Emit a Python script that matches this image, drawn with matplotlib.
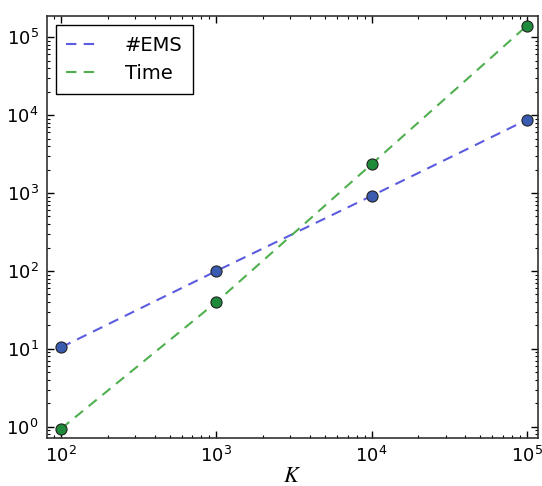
import matplotlib
matplotlib.use('Agg')
import matplotlib.pyplot as plt

K = [1e2, 1e3, 1e4, 1e5]
n_ems = [10.5, 100, 920, 8700]
time_s = [0.95, 40, 2350, 140000]

plt.rcParams['mathtext.fontset'] = 'stix'
plt.rcParams['xtick.direction'] = 'in'
plt.rcParams['ytick.direction'] = 'in'
plt.rcParams['xtick.top'] = True
plt.rcParams['ytick.right'] = True

fig = plt.figure(figsize=(5.42, 4.86), dpi=100)
ax = fig.add_axes([0.0867, 0.0988, 0.906, 0.868])

ax.plot(K, n_ems, '--', color='#5c5ce0', lw=1.5, dashes=(5, 3.5), label='#EMS')
ax.plot(K, time_s, '--', color='#50b050', lw=1.5, dashes=(5, 3.5), label='Time')
ax.plot(K, n_ems, 'o', color='#3a5bb0', mec='#222222', mew=0.8, ms=8)
ax.plot(K, time_s, 'o', color='#1f8a3a', mec='#222222', mew=0.8, ms=8)

ax.set_xscale('log')
ax.set_yscale('log')
ax.set_xlim(81, 1.18e5)
ax.set_ylim(0.72, 1.86e5)

ax.tick_params(which='major', length=5, width=1, labelsize=13, pad=6)
ax.tick_params(which='minor', length=2.5, width=0.8)
for s in ax.spines.values():
    s.set_linewidth(1.2)
    s.set_color('#333333')

ax.set_xlabel('$K$', fontsize=16, labelpad=0)

leg = ax.legend(loc='upper left', fontsize=14, fancybox=False, framealpha=1,
                edgecolor='black', handlelength=1.5, handletextpad=1.5,
                borderpad=0.55, labelspacing=0.5, borderaxespad=0.45)
leg.get_frame().set_linewidth(1.0)

fig.savefig('out.png', dpi=100)
